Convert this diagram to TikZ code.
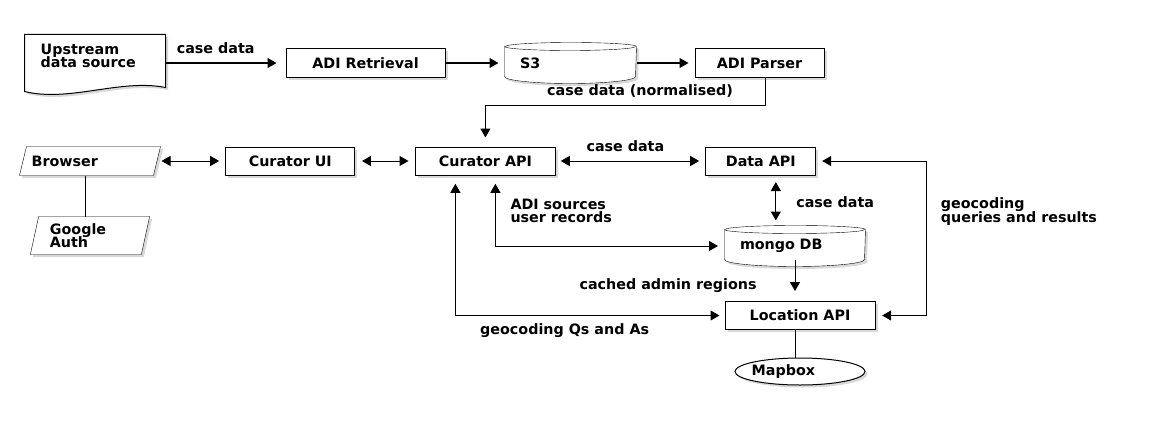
\documentclass[tikz,border=0pt]{standalone}
\usepackage{fontspec}
\setmainfont{DejaVu Sans}
\usetikzlibrary{positioning,arrows.meta,shapes.geometric,shadows,backgrounds}

\newcommand{\tightlines}{\lineskiplimit=-20pt\relax}

\tikzset{
  boxshadow/.style={drop shadow={shadow xshift=2.5pt, shadow yshift=-2.5pt, opacity=0.3}},
  block/.style={draw, fill=white, inner sep=0pt, minimum height=28pt, boxshadow},
  slanted/.style={inner sep=0pt, align=left},
  drum/.style={inner sep=0pt, minimum height=40pt, align=left},
  lbl/.style={inner sep=0pt}
}

% outline of a drum (database) round a rectangular node
\newcommand{\drumoutline}[2]{%
  \draw[fill=white, boxshadow] ([yshift=-4pt]#1.north west) -- ([yshift=7pt]#1.south west)
    arc[start angle=180, end angle=360, x radius=#2pt, y radius=7pt]
    -- ([yshift=-4pt]#1.north east)
    arc[start angle=0, end angle=180, x radius=#2pt, y radius=4pt] -- cycle;
  \draw ([yshift=-4pt]#1.north west) arc[start angle=180, end angle=360, x radius=#2pt, y radius=4pt];
}
% outline of a parallelogram round a rectangular node
\newcommand{\slantoutline}[2]{%
  \draw[fill=white, boxshadow] ([xshift=#2pt]#1.north west) -- (#1.north east)
    -- ([xshift=-#2pt]#1.south east) -- (#1.south west) -- cycle;
}

\begin{document}
\begin{tikzpicture}[x=1pt, y=1pt, line width=1pt, on grid,
    font=\fontsize{14.3pt}{13.5pt}\selectfont\bfseries\tightlines,
    >={Triangle[length=9pt, width=10pt]}]

    \useasboundingbox (0,0) rectangle (1150,-420);

    % upper row
    \node[minimum width=140pt, minimum height=56pt] (upstream) at (95,-63) {};
    \draw[fill=white, boxshadow] (upstream.north west) -- (upstream.north east)
        -- ([yshift=4pt]upstream.south east) .. controls +(-45,9) and +(45,-11) .. (upstream.south west) -- cycle;
    \node[lbl, align=left, anchor=north west] (upstreamtext) at ([xshift=15.7pt, yshift=-8.6pt]upstream.north west) {Upstream\\data source};

    \node[block, minimum width=159pt] (retrieval) at (365.5,-63) {ADI Retrieval};
    \node[drum, minimum width=131pt, text width=101pt] (s3) [right=205pt of retrieval] {S3};
    \node[block, minimum width=129pt] (parser) [right=189pt of s3] {ADI Parser};

    % middle row
    \node[slanted, minimum width=140pt, minimum height=28pt, text width=116.6pt] (browser) at (90,-161) {Browser};
    \node[block, minimum width=129.3pt] (curui) [right=200.3pt of browser] {Curator UI};
    \node[block, minimum width=140.7pt] (curapi) [right=195.1pt of curui] {Curator API};
    \node[block, minimum width=110.3pt] (dataapi) [right=275.4pt of curapi] {Data API};

    \node[slanted, minimum width=118.3pt, minimum height=37pt, text width=80.2pt] (google) [below=74.5pt of browser] {Google\\Auth};

    % lower part
    \node[drum, minimum width=140pt, text width=110pt] (mongo) at (795,-246) {mongo DB};
    \node[block, minimum width=150pt] (locapi) at (800,-315.5) {Location API};
    \node[ellipse, draw, fill=white, inner ysep=0pt, inner xsep=-3pt, minimum width=130pt, minimum height=27pt,
          text width=96.6pt, align=left, boxshadow] (mapbox) [below=56pt of locapi] {Mapbox};

    \begin{scope}[on background layer]
        \drumoutline{s3}{65.5}
        \drumoutline{mongo}{70}
        \slantoutline{browser}{7}
        \slantoutline{google}{8.3}
    \end{scope}

    \path[->, shorten >=6pt]
        (upstream)  edge[shorten >=9pt] node[lbl, pos=0.09, anchor=base west, yshift=9pt] {case data} (retrieval)
        (retrieval) edge (s3)
        (s3)        edge (parser)
        (browser)   edge[<->, shorten <=1pt] (curui)
        (curui)     edge[<->, shorten <=6.5pt] (curapi)
        (curapi)    edge[<->, shorten <=4.5pt] node[lbl, pos=0.2, anchor=base west, yshift=9.3pt] {case data} (dataapi);

    \draw[->, shorten >=9pt] ([xshift=6pt]parser.south) -- ++(0,-28)
        -| node[lbl, pos=0.224, anchor=base, yshift=10pt] {case data (normalised)} (curapi.north);

    \draw[<->, shorten <=6.5pt, shorten >=5pt] ([xshift=15pt]dataapi.south)
        -- node[lbl, anchor=base west, xshift=20pt, yshift=-7.2pt] {case data} ([xshift=15pt]dataapi.south |- mongo.north);

    \draw[<->, shorten <=8.3pt, shorten >=6.5pt] ([xshift=10pt]curapi.south)
        |- node[lbl, pos=0.25, anchor=north west, xshift=14.6pt, yshift=12.6pt, align=left] {ADI sources\\user records} (mongo.west);

    \draw[<->, shorten <=8.3pt, shorten >=5pt] ([xshift=-30pt]curapi.south)
        |- node[lbl, pos=0.703, anchor=base, yshift=-18.5pt] {geocoding Qs and As} (locapi.west);

    \draw[->, shorten >=10pt] ([yshift=7pt]mongo.south)
        -- node[lbl, pos=1, anchor=base east, xshift=-38pt, yshift=11.7pt] {cached admin regions} (mongo.south |- locapi.north);

    \draw[<->, shorten <=5.7pt, shorten >=6.7pt] (dataapi.east) -- ++(110,0)
        |- node[lbl, pos=0, anchor=north west, xshift=14pt, yshift=-36.4pt, align=left] {geocoding\\queries and results} (locapi.east);

    \draw ([xshift=-4.3pt]browser.south) -- ([xshift=-4.3pt]browser.south |- google.north);
    \draw ([xshift=-4.7pt]locapi.south) -- ([xshift=-4.7pt]locapi.south |- mapbox.north);

\end{tikzpicture}
\end{document}
